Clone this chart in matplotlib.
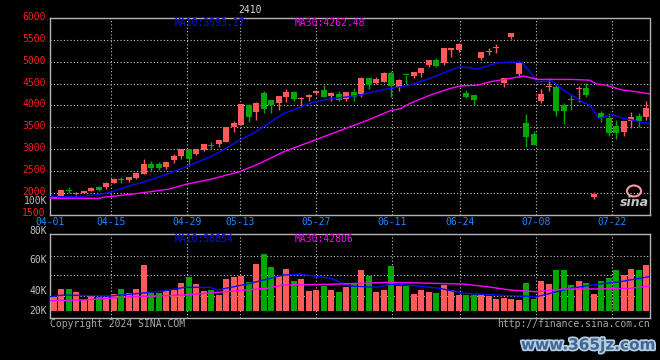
import numpy as np
import matplotlib.pyplot as plt
import matplotlib.patheffects as pe
from matplotlib.patches import Ellipse
from matplotlib.transforms import ScaledTranslation

plt.rcParams['font.family'] = 'DejaVu Sans Mono'
plt.rcParams['font.size'] = 7

# daily bars, 80 of them (04-01 .. 07-26)
opens = [1885, 1931, 2050, 1980, 2000, 2040, 2137, 2137, 2229, 2295,
         2290, 2330, 2428, 2663, 2660, 2580, 2748, 2840, 3000, 2879,
         2977, 3090, 3114, 3167, 3503, 3549, 4007, 3853, 4281, 4121,
         4059, 4190, 4311, 4135, 4183, 4288, 4350, 4212, 4258, 4150,
         4311, 4258, 4617, 4503, 4540, 4750, 4425, 4700, 4670, 4732,
         4922, 5036, 4960, 5265, 5265, 4290, 4235, 5089, 5215, 5320,
         4503, 5556, 4716, 3600, 3353, 4100, 4430, 4420, 4007, 4125,
         4385, 4389, 1910, 3817, 3702, 3526, 3396, 3640, 3762, 3739]
highs = [1925, 2066, 2124, 2020, 2040, 2120, 2160, 2235, 2336, 2360,
         2370, 2465, 2771, 2725, 2700, 2710, 2885, 3005, 3005, 3010,
         3120, 3160, 3210, 3510, 3640, 4040, 4030, 4065, 4327, 4125,
         4215, 4373, 4334, 4197, 4258, 4345, 4464, 4300, 4327, 4310,
         4390, 4640, 4620, 4640, 4768, 4780, 4600, 4705, 4765, 4860,
         5040, 5075, 5315, 5315, 5432, 4350, 4240, 5225, 5310, 5402,
         4625, 5661, 5020, 3800, 3406, 4370, 4617, 4464, 4059, 4255,
         4450, 4503, 2023, 3876, 3817, 3663, 3645, 3840, 3817, 4098]
lows = [1875, 1928, 1986, 1950, 1985, 2035, 2040, 2080, 2220, 2229,
        2255, 2305, 2420, 2503, 2510, 2540, 2686, 2771, 2611, 2860,
        2950, 3000, 3052, 3150, 3390, 3540, 3618, 3656, 3824, 3830,
        3890, 4082, 4098, 3954, 4105, 4270, 4190, 4105, 4098, 4100,
        4098, 4183, 4373, 4500, 4535, 4200, 4334, 4500, 4617, 4640,
        4869, 4880, 4930, 5112, 5220, 4160, 4007, 5036, 5150, 5204,
        4412, 5520, 4654, 3052, 3095, 4050, 4320, 3760, 3572, 3890,
        4070, 4197, 1860, 3610, 3290, 3222, 3297, 3473, 3510, 3663]
closes = [1920, 2062, 2043, 1992, 2035, 2114, 2062, 2229, 2313, 2285,
          2366, 2458, 2657, 2565, 2570, 2702, 2847, 3000, 2778, 3000,
          3114, 3080, 3206, 3503, 3595, 4036, 3732, 4059, 3915, 4007,
          4212, 4308, 4144, 4150, 4235, 4334, 4197, 4288, 4121, 4300,
          4197, 4631, 4464, 4601, 4746, 4450, 4578, 4690, 4761, 4853,
          5036, 4899, 5310, 5310, 5402, 4200, 4121, 5219, 5225, 5330,
          4617, 5647, 4997, 3281, 3101, 4270, 4445, 3880, 3876, 4115,
          4395, 4235, 1965, 3700, 3359, 3373, 3640, 3725, 3648, 3931]
volumes = [24200, 37400, 37400, 32200, 17900, 25900, 24200, 23700, 28300, 37400,
           30500, 37400, 78700, 31000, 31000, 33900, 35600, 47800, 58100, 46000,
           33900, 35600, 27000, 54600, 58100, 59800, 48900, 80600, 97600, 75400,
           59800, 71900, 51200, 54600, 33900, 35600, 42700, 35600, 32700, 40800,
           47800, 70200, 59700, 32200, 35600, 77100, 42700, 42700, 28800, 35600,
           32200, 30500, 44300, 35600, 27000, 27000, 27000, 27000, 25300, 20200,
           21800, 20200, 18500, 47800, 20200, 51200, 46000, 70200, 70200, 44300,
           51200, 47800, 28800, 51200, 56400, 70200, 61600, 71900, 70200, 78700]

# moving averages (bar index, value)
ma10_x = [-0.5, 3.4, 6.1, 7.6, 9.7, 11.9, 14.1, 15.4, 17.7, 20.9, 22.6, 24.8,
          26.6, 28, 29.3, 30.7, 31.9, 34.1, 36.3, 38.6, 40.8, 43, 44.9, 46.2,
          47.5, 50.2, 52.9, 54.2, 55.5, 56.4, 57.8, 59.1, 60.9, 62.4, 63.5, 64.4,
          66.4, 68.1, 69.8, 70.4, 71.5, 72.6, 73.5, 74.5, 75.8, 77.2, 78.5, 79.5]
ma10 = [1908, 1908, 1963, 2009, 2137, 2238, 2366, 2444, 2595, 2824, 2977, 3206,
        3359, 3510, 3663, 3817, 3892, 4045, 4137, 4183, 4235, 4327, 4389, 4425,
        4464, 4617, 4807, 4883, 4860, 4823, 4899, 4970, 4990, 4983, 4768, 4540,
        4560, 4330, 4160, 4082, 4000, 3702, 3739, 3794, 3702, 3663, 3602, 3593]
ma30_x = [-0.5, 6.1, 6.6, 8.3, 10.6, 12.3, 14.6, 15.4, 17.8, 20.9, 24.8, 27.5,
          30.7, 36.9, 41.3, 41.9, 44.9, 46.2, 47.5, 50.2, 52.9, 54.2, 56.6, 58.2,
          60.9, 62.6, 64, 64.4, 68.9, 71.5, 72.4, 73.5, 74.6, 75.8, 76.9, 79.5]
ma30 = [1872, 1872, 1895, 1925, 1970, 2009, 2062, 2085, 2199, 2306, 2481, 2673,
        2940, 3340, 3625, 3663, 3880, 3920, 4045, 4235, 4389, 4441, 4464, 4540,
        4617, 4670, 4617, 4594, 4594, 4575, 4487, 4464, 4412, 4350, 4330, 4262]
vma10_x = [-0.5, 1.3, 7.5, 11.5, 14.6, 17.5, 20.9, 21.8, 24, 25.8, 28, 30.6, 32.9,
           35.5, 36.9, 39.5, 43.1, 44.9, 47.1, 51.5, 54.6, 59.1, 64.4, 66.2, 68.9,
           72.4, 75.5, 79.5]
vma10 = [24200, 27000, 25300, 30000, 33900, 40300, 40300, 35600, 41300, 46000,
         52900, 61500, 62800, 58600, 55900, 42600, 40300, 45500, 44300, 38600,
         30000, 27000, 24200, 30000, 38600, 45500, 50000, 58854]
vma30_x = [-0.5, 4, 10.6, 17.3, 24, 28.4, 30.6, 36.9, 44.9, 54.6, 57.8, 60.9, 64.4,
           68, 72.4, 76.9, 79.5]
vma30 = [17300, 18500, 24200, 27000, 33900, 38600, 44300, 45500, 48900, 46000,
         41300, 35600, 32700, 37400, 37400, 38600, 42806]

date_labels = ['04-01', '04-15', '04-29', '05-13', '05-27', '06-11', '06-24', '07-08', '07-22']
date_days = [0, 8, 18, 25, 35, 45, 54, 64, 74]   # trading-day number, 79-day calendar
price_ticks = [1500, 2000, 2500, 3000, 3500, 4000, 4500, 5000, 5500, 6000]

RED = '#ff5a5a'
GREEN = '#00a800'
BLUE = '#0a0aff'
MAGENTA = '#ff00ff'
GRID = '#c8c8c8'
GRAY = '#b4b4b4'


def fx(px):
    return px / 660


def fy(py):
    return 1 - py / 360


fig = plt.figure(figsize=(6.6, 3.6), dpi=100, facecolor='black')
ax = fig.add_axes([fx(50), fy(214.5), 600 / 660, 196.5 / 360], facecolor='black')
axv = fig.add_axes([fx(50), fy(318.3), 600 / 660, 84.3 / 360], facecolor='black')

n = len(opens)
x = np.arange(n)
o = np.array(opens)
c = np.array(closes)
colors = np.where(c >= o, RED, GREEN)

# candles
ax.vlines(x, lows, highs, color=colors, lw=1, zorder=3)
ax.bar(x, np.maximum(np.abs(c - o), 22), 0.8, bottom=np.minimum(o, c),
       color=colors, lw=0, zorder=3)
ax.plot(ma10_x, ma10, color=BLUE, lw=1, zorder=4)
ax.plot(ma30_x, ma30, color=MAGENTA, lw=1, zorder=4)

# volume
axv.bar(x, volumes, 0.8, color=colors, lw=0, zorder=3)
axv.plot(vma10_x, vma10, color=BLUE, lw=1, zorder=4)
axv.plot(vma30_x, vma30, color=MAGENTA, lw=1, zorder=4)

tick_pos = -0.5 + np.array(date_days) * n / (n - 1)

for a in (ax, axv):
    a.set_xlim(-0.5, n - 0.5)
    a.set_xticks(tick_pos)
    a.grid(True, color=GRID, linestyle=(0, (1, 2)), lw=0.8, zorder=1)
    a.tick_params(length=0)
    for s in a.spines.values():
        s.set_color(GRAY)
        s.set_linewidth(1)
ax.spines['top'].set_linestyle((0, (2, 1)))

ax.set_ylim(1500, 6000)
ax.set_yticks(price_ticks)
ax.set_yticklabels([str(t) for t in price_ticks], color='#ff1a1a', fontsize=7)
ax.set_xticklabels(date_labels, color='#1e88ff', fontsize=7)
ax.tick_params(axis='y', pad=3)
ax.tick_params(axis='x', pad=2)
# price labels sit a couple of pixels above their grid lines
up = ScaledTranslation(0, 2 / 100, fig.dpi_scale_trans)
for lab in ax.get_yticklabels():
    lab.set_transform(lab.get_transform() + up)

axv.set_ylim(-13100, 132200)
axv.set_yticks([25900, 61600, 94800])
axv.set_yticklabels([])
axv.set_xticklabels([])

# stray volume scale labels
for lab, py in [('100K', 200.7), ('80K', 231), ('60K', 260), ('40K', 290.7), ('20K', 310.7)]:
    fig.text(fx(47), fy(py), lab, color='#c0c0c0', ha='right', va='center', fontsize=7)

fig.text(fx(250), fy(9.7), '2410', color='#d8d8d8', ha='center', va='center', fontsize=7)
fig.text(fx(175), fy(23.3), 'MA10:3593.17', color=BLUE, va='center', fontsize=7)
fig.text(fx(295), fy(23.3), 'MA30:4262.48', color=MAGENTA, va='center', fontsize=7)
fig.text(fx(175), fy(239), 'MA10:58854', color=BLUE, va='center', fontsize=7)
fig.text(fx(295), fy(239), 'MA30:42806', color=MAGENTA, va='center', fontsize=7)
fig.text(fx(50), fy(323.7), 'Copyright 2024 SINA.COM', color='#a8a8a8', va='center', fontsize=7)
fig.text(fx(650), fy(324), 'http://finance.sina.com.cn', color='#a8a8a8',
         ha='right', va='center', fontsize=7)

# sina logo and site watermark
fig.patches.append(Ellipse((fx(634), fy(191)), 14 / 660, 11 / 360, transform=fig.transFigure,
                           facecolor='none', edgecolor='#ff9a9a', lw=1.5))
fig.text(fx(634), fy(202), 'sina', color='#c8c8c8', ha='center', va='center',
         fontsize=9, fontweight='bold', style='italic', family='DejaVu Sans')
fig.text(fx(655), fy(345), 'www.365jz.com', color='#3d6596', ha='right', va='center',
         fontsize=11, fontweight='bold', family='DejaVu Sans',
         path_effects=[pe.withStroke(linewidth=2.5, foreground='#b8cce0')])

fig.savefig('out.png', dpi=100, facecolor='black')
